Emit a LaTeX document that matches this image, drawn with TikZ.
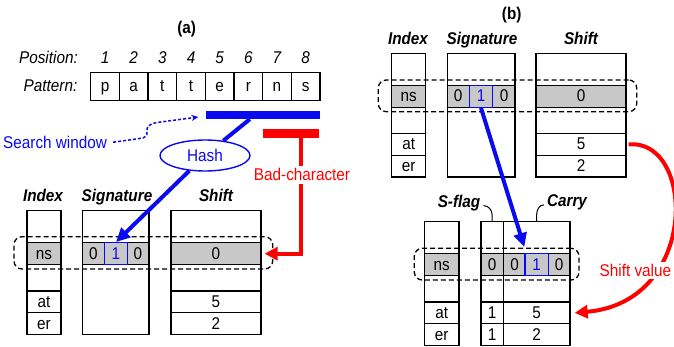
\documentclass[tikz,border=0pt]{standalone}
\usepackage{fontspec}
\setmainfont{Liberation Sans}[FakeStretch=0.9]
\usetikzlibrary{arrows.meta,shapes.geometric}
\definecolor{cgray}{RGB}{200,200,200}
\definecolor{cblue}{RGB}{10,10,240}
\definecolor{cred}{RGB}{255,0,0}
\newcommand\fs{\fontsize{17}{20}\selectfont}
\tikzset{
  every node/.style={font=\fs, inner sep=0pt},
  cellbox/.style={draw=black, line width=1.3pt, text height=11pt, text depth=0pt, anchor=center},
  hdr/.style={font=\fs\bfseries\itshape, anchor=base},
  itl/.style={font=\fs\itshape, anchor=base},
  bluecell/.style={draw=cblue, line width=1.3pt, text=cblue, minimum width=23.4pt, minimum height=22pt, text height=11pt, text depth=0pt},
  plaincell/.style={text height=11pt, text depth=0pt},
  dashbox/.style={draw=black, dashed, dash pattern=on 5pt off 3pt, line width=1.3pt, rounded corners=8pt},
  bthick/.style={draw=cblue, line width=4pt},
  barrow/.style={draw=cblue, line width=4pt, -{Triangle[length=14pt,width=13pt]}},
  rarrow/.style={draw=cred, line width=4pt, -{Triangle[length=13pt,width=13pt]}},
  dasharrow/.style={draw=cblue, line width=1.5pt, dash pattern=on 3pt off 2pt, -{Stealth[length=7pt,width=6pt]}},
  hook/.style={draw=black, line width=1pt},
}
% table column: name, xleft, xright, ytop, ns, at, er
\newcommand\tabcol[7]{%
  \pgfmathsetmacro\tcw{#3-#2}\pgfmathsetmacro\tcx{(#2+#3)/2}%
  \node[cellbox, minimum width=\tcw pt, minimum height=32pt] (#1-1) at (\tcx,{#4+16}) {};
  \node[cellbox, fill=cgray, minimum width=\tcw pt, minimum height=22pt] (#1-2) at (\tcx,{#4+43}) {#5};
  \node[cellbox, minimum width=\tcw pt, minimum height=26.3pt] (#1-3) at (\tcx,{#4+67.15}) {};
  \node[cellbox, minimum width=\tcw pt, minimum height=21.7pt] (#1-4) at (\tcx,{#4+91.15}) {#6};
  \node[cellbox, minimum width=\tcw pt, minimum height=21.7pt] (#1-5) at (\tcx,{#4+112.85}) {#7};
}
% signature column: name, xleft, xright, ytop
\newcommand\sigcol[4]{%
  \pgfmathsetmacro\tcw{#3-#2}\pgfmathsetmacro\tcx{(#2+#3)/2}%
  \node[cellbox, minimum width=\tcw pt, minimum height=123.7pt] (#1) at (\tcx,{#4+61.85}) {};
  \node[cellbox, fill=cgray, minimum width=\tcw pt, minimum height=22pt] (#1-2) at (\tcx,{#4+43}) {};
}
\begin{document}
\begin{tikzpicture}[x=1pt,y=-1pt]
\useasboundingbox (0,0) rectangle (674,347);
\fill[white] (0,0) rectangle (674,347);

% ---------- panel (a) ----------
\node[font=\fs\bfseries, anchor=base] (la) at (186.7,34) {(a)};
\node[itl, anchor=base east] (posl) at (78,64) {Position:};
\node[itl, anchor=base east] (patl) at (77.5,91.7) {Pattern:};
\foreach \i/\c in {1/p,2/a,3/t,4/t,5/e,6/r,7/n,8/s}{
  \node[cellbox, minimum width=28.66pt, minimum height=28pt] (p\i) at ({90.7+28.66*(\i-0.5)},86.2) {\c};
  \node[itl] (n\i) at ({90.7+28.66*(\i-0.5)},64) {\i};
}
\node[fill=cblue, minimum width=114.3pt, minimum height=8pt] (bbar) at (262.85,115) {};
\node[fill=cred, minimum width=56.6pt, minimum height=9pt] (rbar) at (291,133.8) {};
\node[draw=cblue, ellipse, line width=1.4pt, text=cblue, minimum width=90pt, minimum height=31pt] (hash) at (205,155.5) {Hash};
\node[text=cblue, anchor=base west] (sw) at (3,148.3) {Search window};

\node[hdr] (hia) at (43,201.7) {Index};
\node[hdr] (hsa) at (117,201.7) {Signature};
\node[hdr] (hha) at (216,201.7) {Shift};
\tabcol{ia}{27}{61}{210.7}{ns}{at}{er}
\sigcol{sa}{82.7}{149}{210.7}
\node[plaincell] (sa-l) at (93.5,253.7) {0};
\node[bluecell] (sa-m) at (116,253.7) {1};
\node[plaincell] (sa-r) at (138,253.7) {0};
\tabcol{ha}{171}{261}{210.7}{0}{5}{2}
\node[dashbox, minimum width=258.7pt, minimum height=32.3pt] (da) at (143.35,252.85) {};

\draw[bthick] ([xshift=-13pt]bbar.south) -- (hash);
\draw[barrow] (hash) -- (sa-m.north);
\draw[dasharrow] ([xshift=6pt]sw.east) -- (143,138) .. controls (153,134) and (139,126) .. (157,122.5) -- ([xshift=-7pt,yshift=-2pt]bbar.west);
\draw[rarrow] ([xshift=10pt]rbar.south) |- ([xshift=3pt]ha-2.east);
\node[text=cred, fill=white, inner sep=2.5pt, anchor=base] (bad) at (302,181) {Bad-character};

% ---------- panel (b) ----------
\node[font=\fs\bfseries, anchor=base] (lb) at (511.7,19.5) {(b)};
\node[hdr] (hib) at (408,45) {Index};
\node[hdr] (hsb) at (482,45) {Signature};
\node[hdr] (hhb) at (581,45) {Shift};
\tabcol{ib}{391.7}{425.7}{53.3}{ns}{at}{er}
\sigcol{sb}{447.7}{515}{53.3}
\node[plaincell] (sb-l) at (458,96.3) {0};
\node[bluecell] (sb-m) at (481,96.3) {1};
\node[plaincell] (sb-r) at (504,96.3) {0};
\tabcol{hb}{536}{626}{53.3}{0}{5}{2}
\node[dashbox, minimum width=258.4pt, minimum height=31.7pt] (db) at (507.5,95.85) {};

\node[hdr] (sfl) at (459,208) {S-flag};
\node[hdr] (cl) at (567,207) {Carry};
\tabcol{ic}{424.3}{459}{221.7}{ns}{at}{er}
\tabcol{fc}{481}{503.3}{221.7}{0}{1}{1}
\tabcol{cc}{503.3}{570}{221.7}{}{5}{2}
\node[plaincell] (cc-l) at (514.5,264.7) {0};
\node[bluecell] (cc-m) at (536.65,264.7) {1};
\node[plaincell] (cc-r) at (559,264.7) {0};
\node[dashbox, minimum width=164.7pt, minimum height=31.7pt] (dc) at (496.65,264.15) {};

\draw[hook] ([shift={(3,2)}]sfl.east) to[out=0,in=90] ([yshift=6pt]fc-1.north) -- (fc-1.north);
\draw[hook] ([shift={(-3,2)}]cl.west) to[out=180,in=90] ([yshift=6pt]cc-1.north) -- (cc-1.north);

\draw[barrow] (sb-m.south) -- ([yshift=6pt]cc-m.north west);
\draw[rarrow] ([xshift=2pt]hb-4.east) .. controls (695,138) and (700,302) .. ([xshift=4pt]cc-4.east);
\node[text=cred, fill=white, inner sep=2pt, anchor=base west] (sv) at (597.5,276.7) {Shift value};
\end{tikzpicture}
\end{document}
